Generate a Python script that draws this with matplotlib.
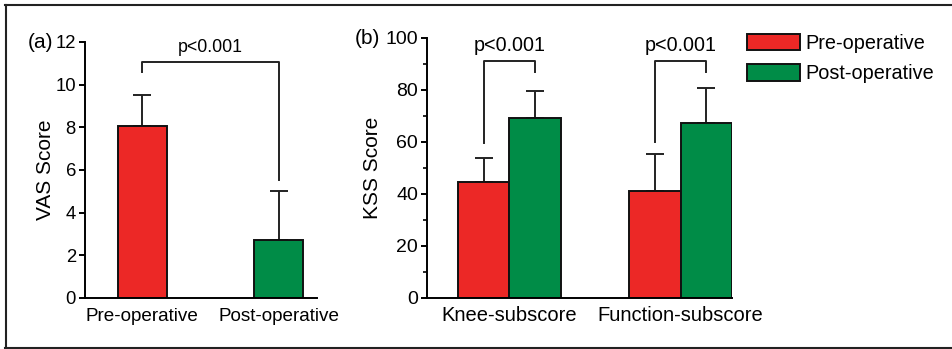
import matplotlib.pyplot as plt
import matplotlib.patches as mpatches
from matplotlib.lines import Line2D
import numpy as np

plt.rcParams["font.family"] = ["Liberation Sans", "DejaVu Sans"]
plt.rcParams["font.size"] = 13

RED = "#ec2826"
GREEN = "#008c47"

# panel (a): VAS score
vas_groups = ["Pre-operative", "Post-operative"]
vas_mean = [8.05, 2.7]
vas_sd = [1.45, 2.3]
# bracket: (x1, x2, top, left leg end, right leg end)
vas_bracket = (0, 1, 11.05, 10.6, 5.55)

# panel (b): KSS score
kss_groups = ["Knee-subscore", "Function-subscore"]
kss_pre = [44.7, 41.3]
kss_pre_sd = [9.1, 14.0]
kss_post = [69.1, 67.3]
kss_post_sd = [10.5, 13.5]
kss_top = [91.2, 91.2]
kss_left_end = [59.6, 60.0]
kss_right_end = [87.0, 87.0]

W, H = 952, 349
fig = plt.figure(figsize=(W / 100, H / 100), dpi=100)


def px_axes(left, top, right, bottom):
    return fig.add_axes([left / W, 1 - bottom / H, (right - left) / W, (bottom - top) / H])


def style(ax, tsize, csize, xpad):
    for s in ("top", "right"):
        ax.spines[s].set_visible(False)
    for s in ("left", "bottom"):
        ax.spines[s].set_linewidth(1.4)
    ax.tick_params(axis="y", direction="out", length=4.5, width=1.4, pad=2, labelsize=tsize)
    ax.tick_params(axis="y", which="minor", direction="out", length=3, width=1.2)
    ax.tick_params(axis="x", length=0, pad=xpad, labelsize=csize)


def bracket(ax, x1, x2, top, yl, yr, text, dy, size):
    ax.plot([x1, x1, x2, x2], [yl, top, top, yr], color="#222222", lw=1.4, clip_on=False)
    ax.text((x1 + x2) / 2, top + dy, text, ha="center", va="bottom", fontsize=size, clip_on=False)


def ylabel(ax, text, xpos):
    ax.set_ylabel(text, fontsize=15)
    ax.yaxis.set_label_coords(xpos, 0.5)
    ax.yaxis.label.set_verticalalignment("center")


ekw = dict(ecolor="#222222", elinewidth=1.4, capsize=6.8, capthick=1.4)

# ---- panel (a)
ax1 = px_axes(85, 42, 317, 298)
x1 = np.arange(len(vas_groups))
bw1 = 0.36
ax1.bar(x1, vas_mean, bw1, color=[RED, GREEN], edgecolor="#111111", linewidth=1.4, zorder=2)
ax1.errorbar(x1, vas_mean, yerr=[np.zeros(2), vas_sd], fmt="none", zorder=1, **ekw)
ax1.set_xlim(-0.42, 1.28)
ax1.set_ylim(0, 12)
ax1.set_yticks(range(0, 13, 2))
ax1.set_xticks(x1)
ax1.set_xticklabels(vas_groups)
style(ax1, 13.3, 13.6, 7)
ylabel(ax1, "VAS Score", -0.172)
bracket(ax1, *vas_bracket, "p<0.001", 0.3, 12.8)

# ---- panel (b)
ax2 = px_axes(427, 38, 732, 298)
x2 = np.arange(len(kss_groups))
bw2 = 0.3
ax2.bar(x2 - bw2 / 2, kss_pre, bw2, color=RED, edgecolor="#111111", linewidth=1.4, zorder=2)
ax2.bar(x2 + bw2 / 2, kss_post, bw2, color=GREEN, edgecolor="#111111", linewidth=1.4, zorder=2)
ax2.errorbar(x2 - bw2 / 2, kss_pre, yerr=[np.zeros(2), kss_pre_sd], fmt="none", zorder=1, **ekw)
ax2.errorbar(x2 + bw2 / 2, kss_post, yerr=[np.zeros(2), kss_post_sd], fmt="none", zorder=1, **ekw)
ax2.set_xlim(-0.48, 1.30)
ax2.set_ylim(0, 100)
ax2.set_yticks(range(0, 101, 20))
ax2.set_yticks(range(10, 100, 20), minor=True)
ax2.set_xticks(x2)
ax2.set_xticklabels(kss_groups)
style(ax2, 14, 14.5, 6)
ylabel(ax2, "KSS Score", -0.18)
for i in range(len(kss_groups)):
    bracket(ax2, x2[i] - bw2 / 2, x2[i] + bw2 / 2, kss_top[i], kss_left_end[i],
            kss_right_end[i], "p<0.001", 2.2, 14.2)

# panel letters
fig.text(28 / W, 1 - 42 / H, "(a)", fontsize=15, va="center", ha="left")
fig.text(355 / W, 1 - 39 / H, "(b)", fontsize=15, va="center", ha="left")

# legend
handles = [mpatches.Patch(facecolor=RED, edgecolor="#111111", linewidth=1.4),
           mpatches.Patch(facecolor=GREEN, edgecolor="#111111", linewidth=1.4)]
fig.legend(handles, ["Pre-operative", "Post-operative"], loc="upper left",
           bbox_to_anchor=(747 / W, 1 - 34 / H), frameon=False, fontsize=14.3,
           handlelength=2.67, handleheight=0.9, handletextpad=0.25,
           labelspacing=0.56, borderaxespad=0, borderpad=0)

# outer frame (left, top, bottom)
fig.add_artist(Line2D([5.5 / W, 5.5 / W], [1 - 4.5 / H, 1 - 347.5 / H], color="#222222", lw=1.5))
fig.add_artist(Line2D([5 / W, 1], [1 - 4.5 / H, 1 - 4.5 / H], color="#222222", lw=1.5))
fig.add_artist(Line2D([5 / W, 1], [1 - 347.5 / H, 1 - 347.5 / H], color="#222222", lw=1.5))

fig.savefig("out.png", dpi=100)
